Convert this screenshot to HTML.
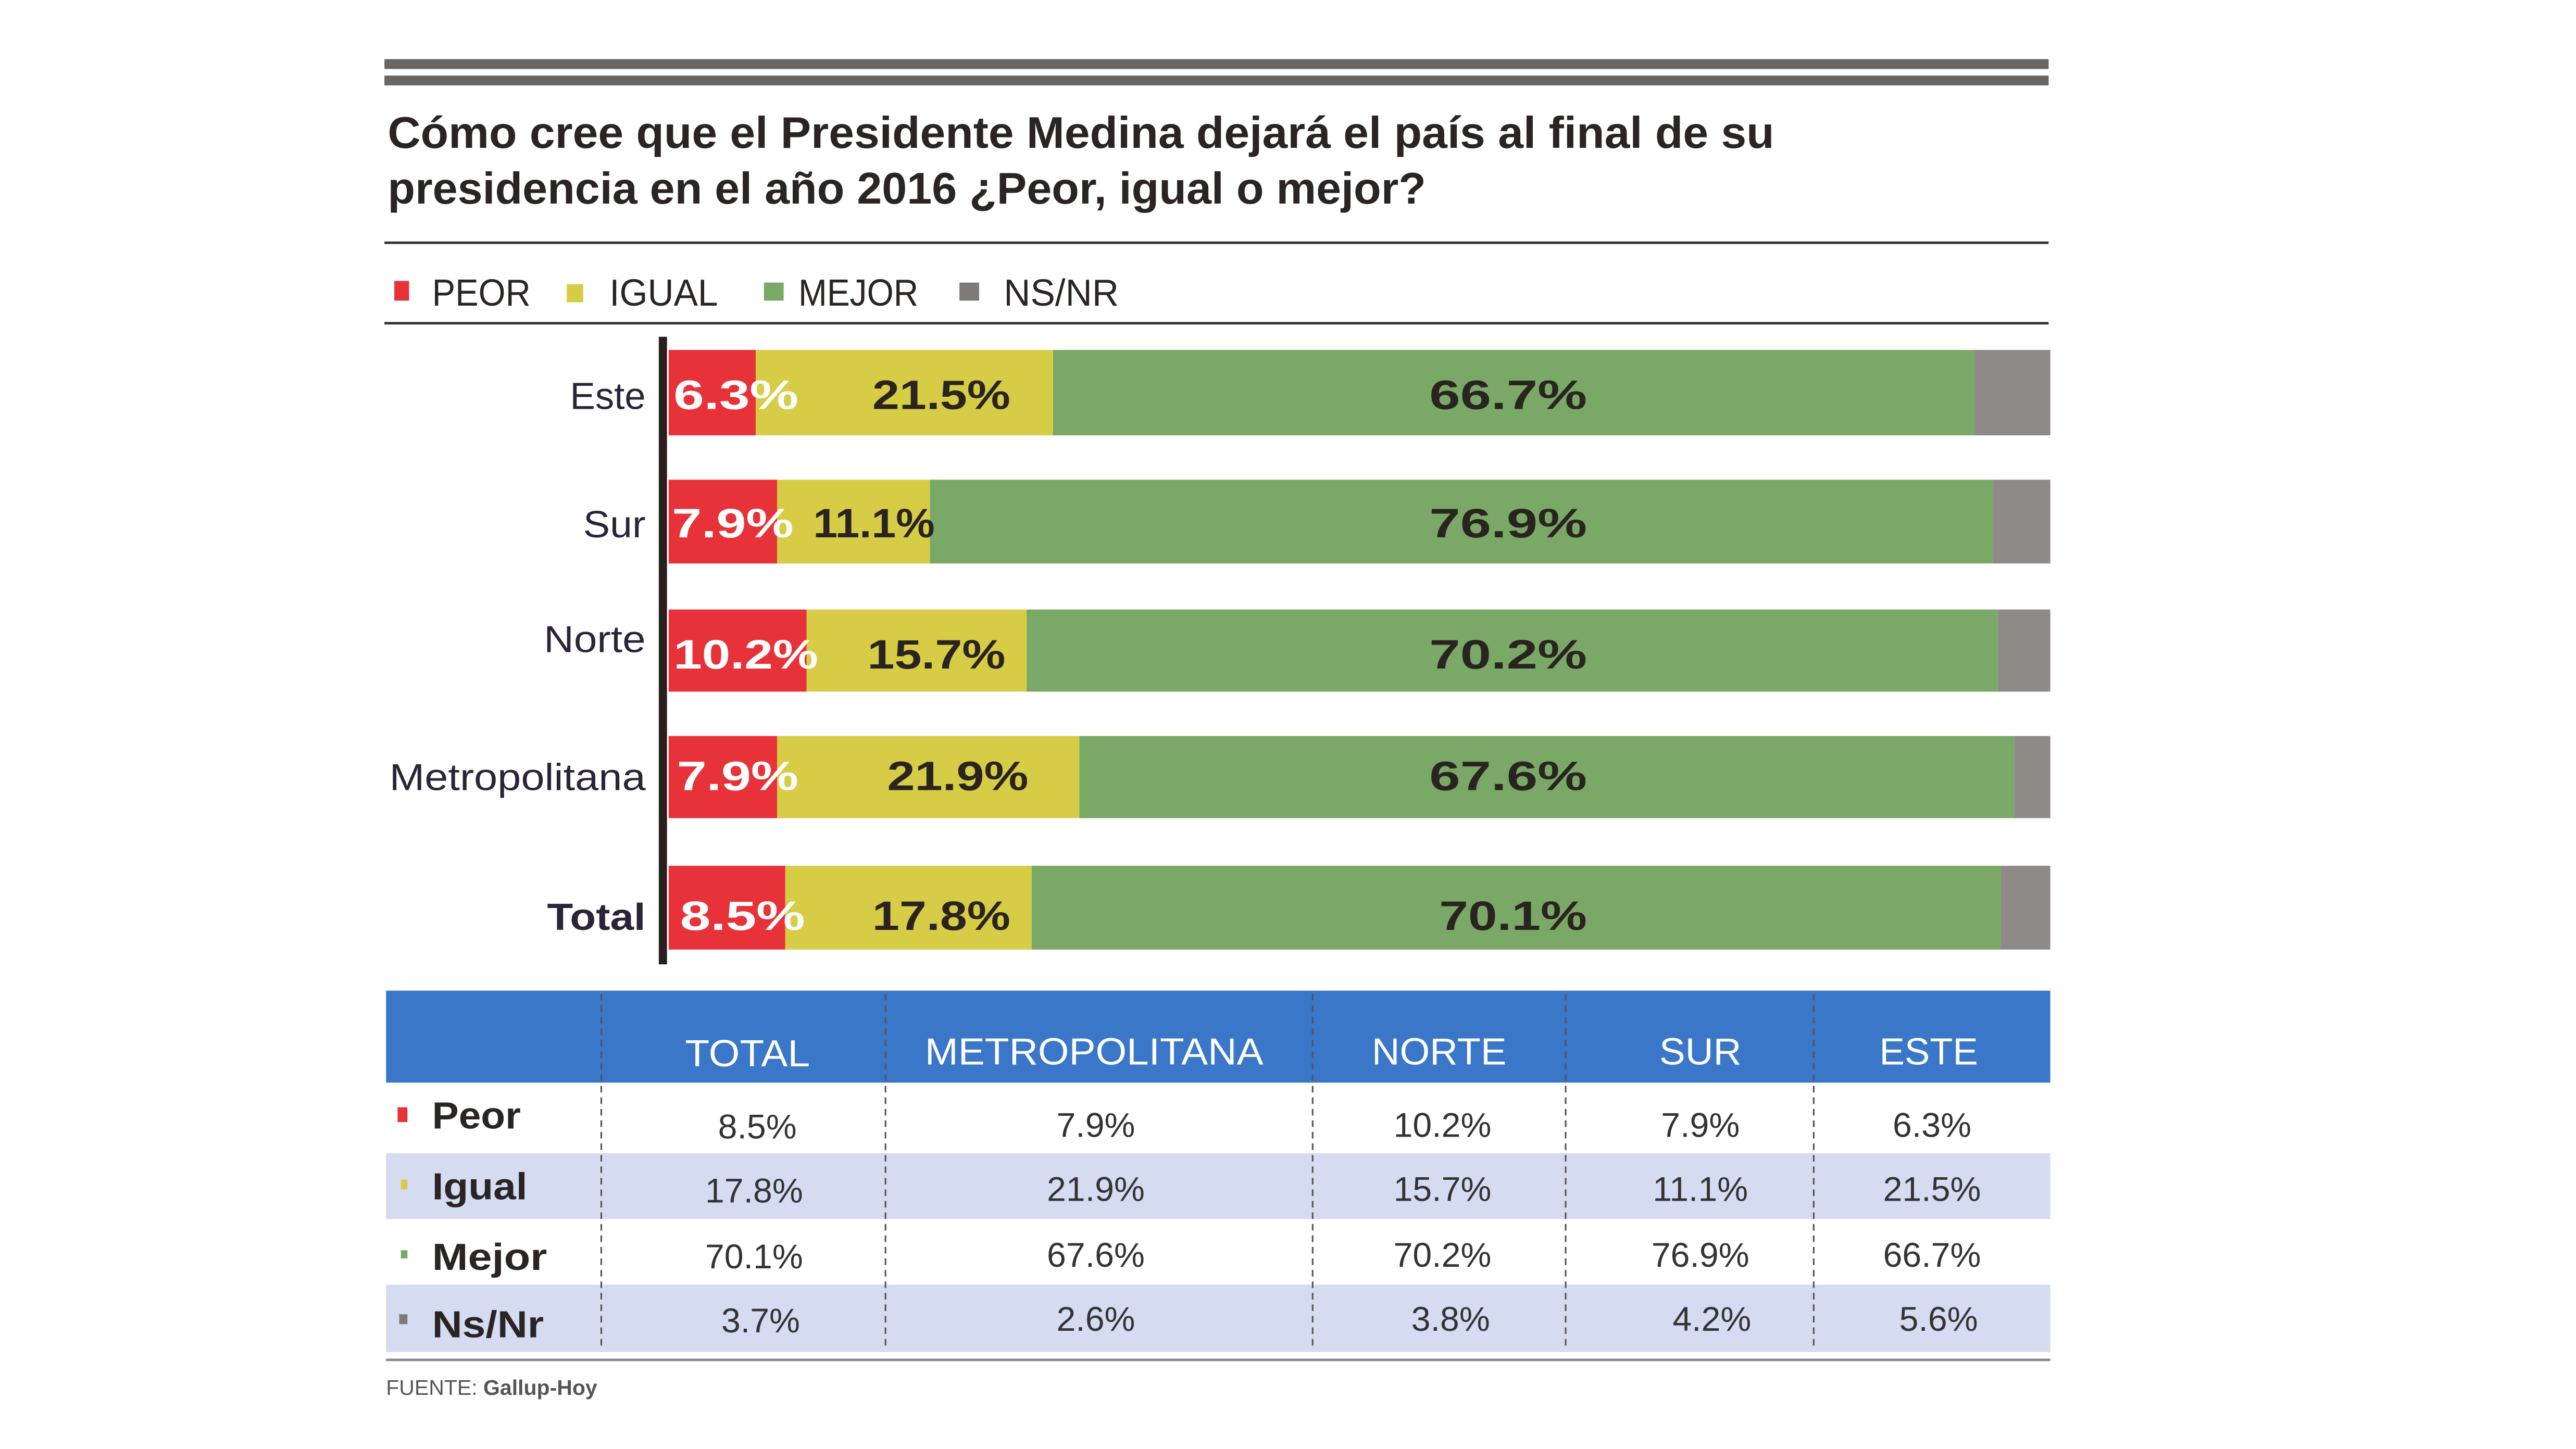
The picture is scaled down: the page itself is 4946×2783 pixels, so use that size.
<!DOCTYPE html>
<html><head><meta charset="utf-8"><style>
html,body{margin:0;padding:0;background:#fff;}
svg{display:block;}
text{font-family:"Liberation Sans Narrow","Liberation Sans",sans-serif;}
</style></head><body>
<svg width="4946" height="2783" viewBox="0 0 1568 882" preserveAspectRatio="none" xmlns="http://www.w3.org/2000/svg">
<rect width="1568" height="882" fill="#fff"/>
<!-- top stripes -->
<rect x="234" y="36" width="1013" height="6" fill="#6a6462"/>
<rect x="234" y="46" width="1013" height="6" fill="#6a6462"/>
<!-- title -->
<text x="236" y="90" font-size="27" font-weight="bold" fill="#2a2424" textLength="844" lengthAdjust="spacingAndGlyphs">Cómo cree que el Presidente Medina dejará el país al final  de su</text>
<text x="236" y="124" font-size="27" font-weight="bold" fill="#2a2424" textLength="632" lengthAdjust="spacingAndGlyphs">presidencia en el año 2016 ¿Peor, igual o mejor?</text>
<rect x="234" y="147" width="1013" height="1.5" fill="#333"/>
<!-- legend -->
<rect x="240" y="171" width="9" height="12" fill="#e8323a"/>
<text x="263" y="186" font-size="23" fill="#2a2424" textLength="60" lengthAdjust="spacingAndGlyphs">PEOR</text>
<rect x="345" y="173" width="10" height="11" fill="#d6cc45"/>
<text x="371" y="186" font-size="23" fill="#2a2424" textLength="66" lengthAdjust="spacingAndGlyphs">IGUAL</text>
<rect x="465" y="172" width="12" height="11" fill="#7aa866"/>
<text x="486" y="186" font-size="23" fill="#2a2424" textLength="73" lengthAdjust="spacingAndGlyphs">MEJOR</text>
<rect x="584" y="172" width="12" height="11" fill="#7e7a78"/>
<text x="611" y="186" font-size="23" fill="#2a2424" textLength="70" lengthAdjust="spacingAndGlyphs">NS/NR</text>
<rect x="234" y="196" width="1013" height="1.5" fill="#333"/>
<!-- bars -->
<g>
<rect x="407" y="213" width="53" height="52" fill="#e8323a"/><rect x="460" y="213" width="181" height="52" fill="#d6cc45"/><rect x="641" y="213" width="561" height="52" fill="#7aa866"/><rect x="1202" y="213" width="46" height="52" fill="#8e8a88"/>
<rect x="407" y="292" width="66" height="51" fill="#e8323a"/><rect x="473" y="292" width="93" height="51" fill="#d6cc45"/><rect x="566" y="292" width="647" height="51" fill="#7aa866"/><rect x="1213" y="292" width="35" height="51" fill="#8e8a88"/>
<rect x="407" y="371" width="84" height="50" fill="#e8323a"/><rect x="491" y="371" width="134" height="50" fill="#d6cc45"/><rect x="625" y="371" width="591" height="50" fill="#7aa866"/><rect x="1216" y="371" width="32" height="50" fill="#8e8a88"/>
<rect x="407" y="448" width="66" height="50" fill="#e8323a"/><rect x="473" y="448" width="184" height="50" fill="#d6cc45"/><rect x="657" y="448" width="569" height="50" fill="#7aa866"/><rect x="1226" y="448" width="22" height="50" fill="#8e8a88"/>
<rect x="407" y="527" width="71" height="51" fill="#e8323a"/><rect x="478" y="527" width="150" height="51" fill="#d6cc45"/><rect x="628" y="527" width="590" height="51" fill="#7aa866"/><rect x="1218" y="527" width="30" height="51" fill="#8e8a88"/>
</g>
<rect x="401" y="205" width="5" height="382" fill="#2a1f1f"/>
<!-- category labels -->
<g font-size="23" fill="#2a2438" text-anchor="end">
<text x="393" y="249" textLength="46" lengthAdjust="spacingAndGlyphs">Este</text>
<text x="393" y="327" textLength="38" lengthAdjust="spacingAndGlyphs">Sur</text>
<text x="393" y="397" textLength="62" lengthAdjust="spacingAndGlyphs">Norte</text>
<text x="393" y="481" textLength="156" lengthAdjust="spacingAndGlyphs">Metropolitana</text>
<text x="393" y="566" font-weight="bold" textLength="60" lengthAdjust="spacingAndGlyphs">Total</text>
</g>
<!-- bar values -->
<g font-size="25" font-weight="bold">
<g fill="#fff">
<text x="410" y="249" textLength="76" lengthAdjust="spacingAndGlyphs">6.3%</text>
<text x="409" y="327" textLength="74" lengthAdjust="spacingAndGlyphs">7.9%</text>
<text x="410" y="407" textLength="88" lengthAdjust="spacingAndGlyphs">10.2%</text>
<text x="412" y="481" textLength="74" lengthAdjust="spacingAndGlyphs">7.9%</text>
<text x="414" y="566" textLength="76" lengthAdjust="spacingAndGlyphs">8.5%</text>
</g>
<g fill="#2a2420" text-anchor="middle">
<text x="573" y="249" textLength="84" lengthAdjust="spacingAndGlyphs">21.5%</text>
<text x="532" y="327" textLength="74" lengthAdjust="spacingAndGlyphs">11.1%</text>
<text x="570" y="407" textLength="84" lengthAdjust="spacingAndGlyphs">15.7%</text>
<text x="583" y="481" textLength="86" lengthAdjust="spacingAndGlyphs">21.9%</text>
<text x="573" y="566" textLength="84" lengthAdjust="spacingAndGlyphs">17.8%</text>
<text x="918" y="249" textLength="96" lengthAdjust="spacingAndGlyphs">66.7%</text>
<text x="918" y="327" textLength="96" lengthAdjust="spacingAndGlyphs">76.9%</text>
<text x="918" y="407" textLength="96" lengthAdjust="spacingAndGlyphs">70.2%</text>
<text x="918" y="481" textLength="96" lengthAdjust="spacingAndGlyphs">67.6%</text>
<text x="921" y="566" textLength="90" lengthAdjust="spacingAndGlyphs">70.1%</text>
</g>
</g>
<!-- table -->
<rect x="235" y="603" width="1013" height="56" fill="#3a77c9"/>
<rect x="235" y="702" width="1013" height="40" fill="#d5dcf2"/>
<rect x="235" y="782" width="1013" height="41" fill="#d5dcf2"/>
<g stroke="#555" stroke-width="1" stroke-dasharray="4,3">
<line x1="366" y1="605" x2="366" y2="822"/><line x1="539" y1="605" x2="539" y2="822"/><line x1="799" y1="605" x2="799" y2="822"/><line x1="953" y1="605" x2="953" y2="822"/><line x1="1104" y1="605" x2="1104" y2="822"/>
</g>
<g font-size="23" fill="#fff" text-anchor="middle">
<text x="455" y="649" textLength="76" lengthAdjust="spacingAndGlyphs">TOTAL</text>
<text x="666" y="648" textLength="206" lengthAdjust="spacingAndGlyphs">METROPOLITANA</text>
<text x="876" y="648" textLength="82" lengthAdjust="spacingAndGlyphs">NORTE</text>
<text x="1035" y="648" textLength="50" lengthAdjust="spacingAndGlyphs">SUR</text>
<text x="1174" y="648" textLength="60" lengthAdjust="spacingAndGlyphs">ESTE</text>
</g>
<rect x="242" y="674" width="6" height="9" fill="#e8323a"/>
<rect x="244" y="718" width="4" height="6" fill="#d6cc45"/>
<rect x="244" y="761" width="4" height="5" fill="#7aa866"/>
<rect x="243" y="800" width="5" height="6" fill="#7e7a78"/>
<g font-size="23" font-weight="bold" fill="#2a2424">
<text x="263" y="687" textLength="54" lengthAdjust="spacingAndGlyphs">Peor</text>
<text x="263" y="730" textLength="58" lengthAdjust="spacingAndGlyphs">Igual</text>
<text x="263" y="773" textLength="70" lengthAdjust="spacingAndGlyphs">Mejor</text>
<text x="263" y="814" textLength="68" lengthAdjust="spacingAndGlyphs">Ns/Nr</text>
</g>
<g font-size="21" fill="#333" text-anchor="middle">
<text x="461" y="693">8.5%</text><text x="667" y="692">7.9%</text><text x="878" y="692">10.2%</text><text x="1035" y="692">7.9%</text><text x="1176" y="692">6.3%</text>
<text x="459" y="732">17.8%</text><text x="667" y="731">21.9%</text><text x="878" y="731">15.7%</text><text x="1035" y="731">11.1%</text><text x="1176" y="731">21.5%</text>
<text x="459" y="772">70.1%</text><text x="667" y="771">67.6%</text><text x="878" y="771">70.2%</text><text x="1035" y="771">76.9%</text><text x="1176" y="771">66.7%</text>
<text x="463" y="811">3.7%</text><text x="667" y="810">2.6%</text><text x="883" y="810">3.8%</text><text x="1042" y="810">4.2%</text><text x="1180" y="810">5.6%</text>
</g>
<rect x="235" y="827" width="1013" height="1.5" fill="#888"/>
<text x="235" y="849" font-size="13" fill="#555">FUENTE: <tspan font-weight="bold">Gallup-Hoy</tspan></text>
</svg>
</body></html>
